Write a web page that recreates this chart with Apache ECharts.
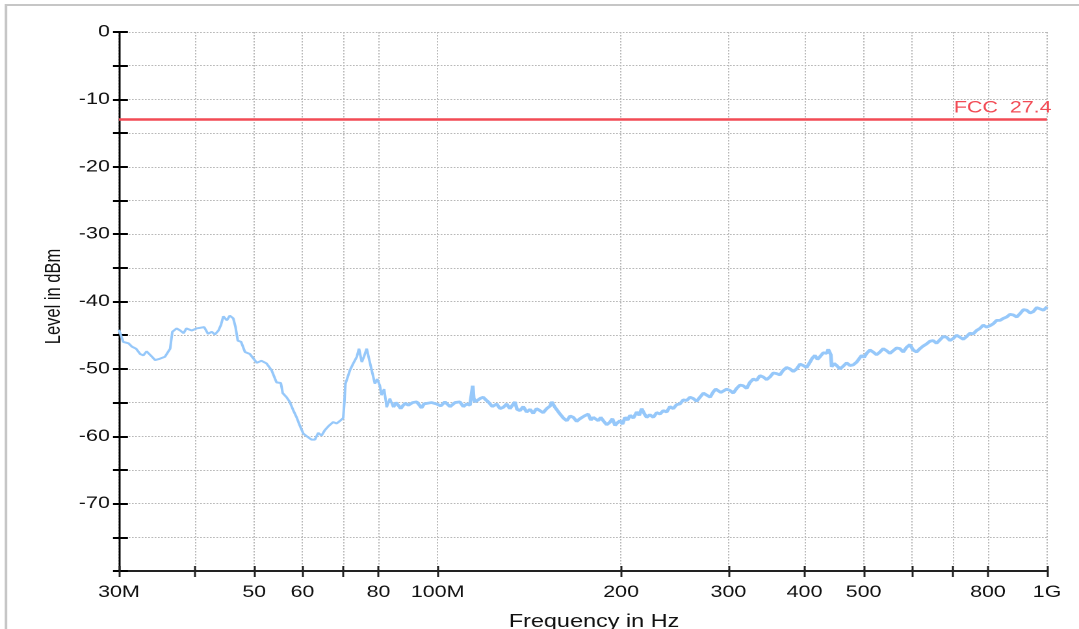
<!DOCTYPE html>
<html>
<head>
<meta charset="utf-8">
<script src="https://cdn.jsdelivr.net/npm/echarts@6/dist/echarts.min.js"></script>
<style>
  html, body { margin: 0; padding: 0; background: #fff; overflow: hidden; }
  /* the source chart is stretched horizontally, so draw narrow and widen it */
  #main { width: 830px; height: 629px; transform: scaleX(1.3); transform-origin: 0 0; }
</style>
</head>
<body>
<div id="main"></div>
<script>
// frequency of each reading, MHz
var freqMHz = [
  30.0, 30.5, 31.1, 31.5, 32.0, 32.5, 32.9, 33.3, 33.9, 34.4, 35.0, 35.7, 36.0, 36.4, 36.7, 37.3, 37.8, 38.3, 38.7, 39.5,
  40.2, 41.4, 42.0, 42.6, 43.1, 43.7, 44.1, 44.5, 45.1, 45.6, 46.2, 46.6, 47.0, 47.6, 48.3, 49.2, 50.5, 51.4, 52.4, 53.4,
  54.4, 55.3, 55.7, 56.5, 57.2, 58.0, 58.7, 59.4, 60.2, 61.2, 62.1, 62.9, 63.7, 64.5, 65.3, 66.2, 67.4, 68.3, 69.2, 70.0,
  70.3, 70.6, 71.1, 71.8, 72.7, 73.7, 74.3, 75.1, 75.7, 76.5, 77.4, 78.1, 78.9, 79.6, 80.4, 80.9, 81.7, 82.5, 83.5, 84.6,
  85.4, 86.2, 87.0, 87.8, 88.6, 89.5, 91.0, 92.4, 93.2, 94.1, 95.0, 95.9, 97.7, 99.6, 101.2, 102.8, 104.8, 106.8, 108.8, 110.2,
  111.6, 113.0, 114.2, 114.6, 115.2, 117.4, 118.8, 120.0, 121.1, 123.0, 125.0, 126.6, 128.2, 129.8, 131.4, 133.9, 135.0, 136.5, 138.2, 140.0,
  141.8, 143.5, 145.3, 147.2, 149.0, 151.0, 153.0, 153.9, 155.8, 157.3, 158.8, 160.8, 162.9, 165.0, 167.0, 169.1, 171.2, 174.0, 176.7, 178.4,
  180.1, 183.5, 185.2, 187.0, 189.4, 191.8, 193.6, 195.5, 197.3, 199.2, 201.1, 203.0, 205.0, 206.9, 209.5, 212.2, 214.2, 216.2, 218.2, 220.3,
  223.0, 225.9, 228.8, 231.7, 234.6, 237.6, 240.6, 243.6, 246.7, 249.9, 253.0, 256.3, 259.5, 262.7, 266.1, 269.5, 273.0, 276.4, 280.0, 283.4,
  286.0, 288.7, 291.5, 294.3, 298.0, 301.8, 305.6, 309.5, 313.4, 317.3, 321.4, 325.5, 329.6, 333.8, 338.0, 342.2, 346.6, 351.0, 355.5, 360.0,
  364.5, 369.1, 373.8, 378.6, 383.4, 388.3, 393.2, 398.1, 403.2, 408.3, 412.0, 416.0, 420.0, 424.0, 429.4, 434.9, 437.6, 440.3, 441.8, 443.2,
  447.4, 451.6, 457.3, 463.0, 469.0, 474.9, 481.0, 487.0, 491.6, 496.3, 501.0, 505.8, 512.1, 518.5, 525.1, 531.8, 538.6, 545.4, 552.3, 559.2,
  566.3, 573.5, 580.8, 588.2, 595.6, 603.1, 610.8, 618.6, 626.5, 634.4, 642.4, 650.4, 658.7, 667.1, 675.6, 684.2, 692.8, 701.5, 710.5, 719.5,
  728.7, 738.0, 747.2, 756.6, 766.2, 776.0, 785.9, 795.8, 806.0, 816.2, 826.6, 837.2, 847.9, 858.7, 869.6, 880.6, 891.8, 903.1, 914.6, 926.2,
  937.8, 949.6, 961.7, 973.9, 986.6, 1000.0
];
// measured level, dBm
var levelDbm = [
  -44.2, -46.0, -46.2, -46.7, -47.0, -47.8, -48.0, -47.4, -48.1, -48.7, -48.5, -48.2, -48.2, -47.0, -44.5, -44.0, -44.3, -44.7, -44.0, -44.3,
  -44.0, -43.8, -44.8, -44.5, -44.9, -44.3, -43.5, -42.2, -42.8, -42.1, -42.5, -43.8, -45.8, -46.0, -47.5, -47.8, -49.1, -48.8, -49.2, -50.2,
  -52.0, -52.1, -53.6, -54.2, -54.9, -56.2, -57.2, -58.4, -59.6, -60.1, -60.5, -60.5, -59.5, -59.9, -59.1, -58.5, -57.9, -58.1, -57.7, -57.3,
  -55.0, -52.2, -52.0, -50.2, -49.2, -48.2, -47.0, -49.0, -48.2, -47.0, -49.0, -49.2, -52.2, -51.5, -52.5, -53.9, -53.0, -55.7, -54.4, -55.7,
  -55.0, -55.4, -55.9, -55.4, -55.1, -55.4, -55.0, -54.9, -55.3, -55.8, -55.2, -55.4, -55.0, -55.2, -55.5, -54.9, -55.6, -55.0, -54.9, -55.6,
  -55.2, -55.4, -52.5, -54.3, -54.9, -54.4, -54.2, -54.6, -54.9, -55.6, -55.2, -55.9, -55.7, -55.2, -55.9, -54.9, -56.0, -56.2, -55.6, -56.4,
  -56.0, -56.6, -55.9, -56.2, -56.5, -55.9, -55.5, -54.9, -55.7, -56.2, -56.7, -57.3, -57.7, -57.0, -57.2, -57.8, -57.4, -57.0, -56.7, -57.6,
  -57.2, -57.7, -57.2, -57.7, -58.3, -57.9, -57.4, -58.4, -58.0, -57.7, -58.2, -57.2, -57.6, -56.9, -57.3, -56.4, -56.9, -55.9, -56.6, -57.2,
  -56.8, -57.2, -56.5, -56.7, -56.2, -56.4, -55.6, -55.9, -55.3, -55.2, -54.6, -54.7, -54.2, -54.4, -54.8, -54.2, -53.6, -53.9, -54.2, -53.4,
  -53.0, -52.9, -53.5, -53.7, -53.0, -53.2, -53.6, -52.9, -52.4, -52.5, -52.9, -52.0, -51.5, -51.7, -51.0, -51.2, -51.6, -51.2, -50.6, -50.7,
  -50.9, -50.2, -49.8, -50.0, -50.4, -50.0, -49.3, -49.5, -49.8, -49.0, -48.4, -48.0, -48.6, -48.2, -47.6, -47.7, -47.1, -47.3, -47.9, -49.7,
  -49.2, -49.5, -50.0, -49.6, -49.1, -49.5, -49.4, -49.0, -48.5, -48.0, -48.3, -47.7, -47.2, -47.5, -47.9, -47.5, -47.0, -47.3, -47.7, -47.3,
  -46.9, -47.0, -47.5, -46.8, -46.4, -47.2, -47.5, -47.0, -46.6, -46.3, -45.9, -45.8, -46.2, -45.7, -45.2, -45.3, -45.8, -45.5, -45.0, -45.3,
  -45.6, -45.2, -44.7, -44.8, -44.3, -44.0, -43.5, -43.8, -43.6, -43.3, -42.8, -42.8, -42.5, -42.3, -41.9, -42.0, -42.3, -41.8, -41.2, -41.3,
  -41.7, -41.5, -40.9, -41.1, -41.3, -40.8
];
// above this frequency the trace is drawn as a thicker, noisier band
var bandFromMHz = 84.6;

// axis ticks (MHz) and which of them carry a label
var xTickMHz = [30, 40, 50, 60, 70, 80, 100, 200, 300, 400, 500, 600, 700, 800, 1000];
var xLabelMHz = [30, 50, 60, 80, 100, 200, 300, 400, 500, 800, 1000];
var xLabelText = { 30: '30M', 100: '100M', 1000: '1G' };

var fccLimit = -13;
var fccLabel = 'FCC  27.4';

var font = 'Liberation Sans, Arial, sans-serif';
var lg = function (v) { return Math.log10(v); };

var chart = echarts.init(document.getElementById('main'), null, { devicePixelRatio: 2 });

var gridTop = 32, gridBottom = 58, gridLeft = 91.5, gridRight = 24.6;
var gridH = 629 - gridTop - gridBottom;
var gridW = 830 - gridLeft - gridRight;

var xCommon = {
  type: 'value',
  min: lg(30),
  max: lg(1000),
  gridIndex: 0
};
var yCommon = {
  type: 'value',
  min: -80,
  max: 0,
  interval: 5,
  gridIndex: 0
};

var points = freqMHz.map(function (f, i) { return [lg(f), levelDbm[i]]; });
var lowPart = points.filter(function (p, i) { return freqMHz[i] <= bandFromMHz; });
var highPart = points.filter(function (p, i) { return freqMHz[i] >= bandFromMHz; });

var option = {
  animation: false,
  backgroundColor: '#fff',
  graphic: [{
    type: 'rect',
    shape: { x: 4.6, y: 5, width: 2000, height: 2000 },
    style: { fill: 'none', stroke: '#c6c6c6', lineWidth: 2 },
    silent: true
  }],
  grid: {
    left: gridLeft,
    right: gridRight,
    top: gridTop,
    bottom: gridBottom,
    containLabel: false,
    outerBoundsMode: 'none'
  },
  xAxis: [
    Object.assign({}, xCommon, {
      position: 'bottom',
      name: 'Frequency in Hz',
      nameLocation: 'middle',
      nameGap: 42,
      nameTextStyle: { fontFamily: font, fontSize: 18, color: '#111', padding: [0, 0, 0, 17] },
      axisLine: { onZero: false, lineStyle: { color: '#222', width: 2 } },
      axisTick: { inside: false, length: 6, lineStyle: { color: '#222', width: 1.5 }, customValues: xTickMHz.map(lg) },
      axisLabel: {
        customValues: xLabelMHz.map(lg),
        margin: 13,
        fontFamily: font,
        fontSize: 16.5,
        color: '#111',
        showMinLabel: true,
        showMaxLabel: true,
        formatter: function (v) {
          var f = Math.round(Math.pow(10, v));
          return xLabelText[f] || String(f);
        }
      },
      splitLine: { show: true, lineStyle: { color: '#b8b8b8', width: 1, type: [1.5, 1.5] } }
    }),
    // second axis only for the part of each tick that reaches into the plot
    Object.assign({}, xCommon, {
      position: 'top',
      offset: -gridH,
      axisLine: { show: false, onZero: false },
      axisTick: { inside: false, length: 5, lineStyle: { color: '#222', width: 1.5 }, customValues: xTickMHz.map(lg) },
      axisLabel: { show: false },
      splitLine: { show: false }
    })
  ],
  yAxis: [
    Object.assign({}, yCommon, {
      position: 'left',
      name: 'Level in dBm',
      nameLocation: 'middle',
      nameGap: 38,
      nameTextStyle: { fontFamily: font, fontSize: 16.5, color: '#111', padding: [0, 0, 0, 10] },
      axisLine: { onZero: false, lineStyle: { color: '#000', width: 1.5 } },
      axisTick: { inside: false, length: 4.6, lineStyle: { color: '#000', width: 2 } },
      axisLabel: {
        margin: 7,
        fontFamily: font,
        fontSize: 16.5,
        color: '#111',
        showMaxLabel: true,
        formatter: function (v) {
          return (v % 10 === 0 && v !== -80) ? String(v) : '';
        }
      },
      splitLine: { show: true, lineStyle: { color: '#b8b8b8', width: 1, type: [1.3, 1.2] } }
    }),
    Object.assign({}, yCommon, {
      position: 'right',
      offset: -gridW,
      axisLine: { show: false, onZero: false },
      axisTick: { inside: false, length: 6.9, lineStyle: { color: '#000', width: 2 } },
      axisLabel: { show: false },
      splitLine: { show: false }
    })
  ],
  series: [{
    type: 'line',
    xAxisIndex: 0,
    yAxisIndex: 0,
    showSymbol: false,
    symbol: 'none',
    silent: true,
    lineStyle: { color: '#96c8fa', width: 2 },
    data: lowPart
  }, {
    type: 'line',
    xAxisIndex: 0,
    yAxisIndex: 0,
    showSymbol: false,
    symbol: 'none',
    silent: true,
    lineStyle: { color: '#96c8fa', width: 2.8 },
    data: highPart,
    markLine: {
      silent: true,
      symbol: 'none',
      lineStyle: { color: '#f24b55', width: 2.5, type: 'solid' },
      label: {
        position: 'insideEndTop',
        formatter: fccLabel,
        color: '#f24b55',
        fontFamily: font,
        fontSize: 16.5,
        distance: [-3.5, 3]
      },
      data: [{ yAxis: fccLimit }]
    }
  }]
};

chart.setOption(option);
</script>
</body>
</html>
